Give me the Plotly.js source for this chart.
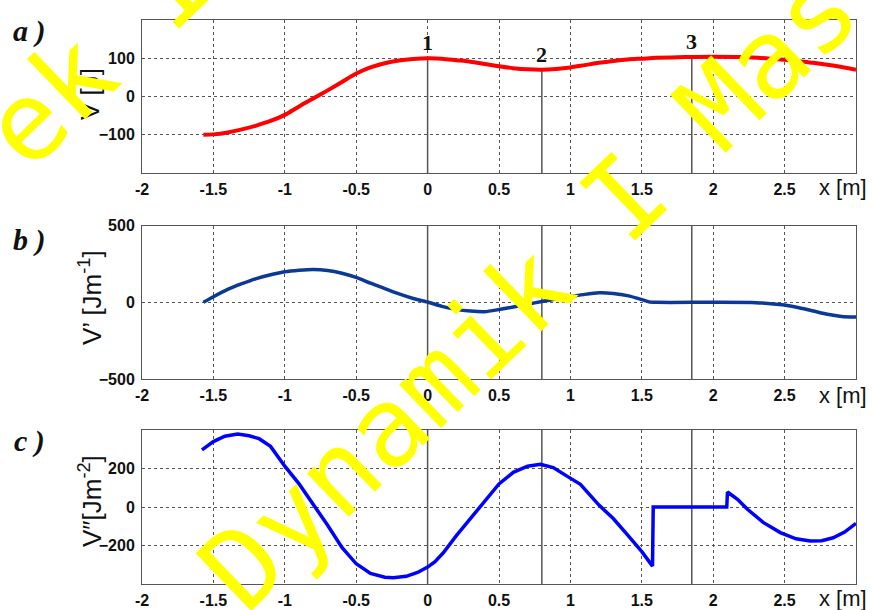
<!DOCTYPE html>
<html>
<head>
<meta charset="utf-8">
<script src="https://cdn.plot.ly/plotly-3.0.1.min.js"></script>
<style>html,body{margin:0;padding:0;background:#fff;}#chart{width:872px;height:610px;}</style>
</head>
<body>
<div id="chart"></div>
<script>
// ---- data ----
// panel a: potential energy V [J]
const xV = [-1.57,-1.5,-1.4,-1.3,-1.2,-1.1,-1.0,-0.9,-0.8,-0.7,-0.6,-0.5,-0.4,-0.3,-0.2,-0.1,0,0.1,0.2,0.3,0.4,0.5,0.6,0.7,0.8,0.9,1.0,1.1,1.2,1.3,1.4,1.5,1.6,1.8,2.0,2.2,2.4,2.5,2.6,2.7,2.8,2.9,3.0];
const V  = [-100,-99,-94,-86,-76,-64,-48,-26,-5,16,38,60,76,87,94,98,100,99,95,91,85,79,74,71,70,72,76,82,88,93,97,99,101,103,104,103,99,96,92,88,83,77,70];
// panel b: first derivative V' [J/m]
const xD1 = [-1.57,-1.5,-1.4,-1.3,-1.2,-1.1,-1.0,-0.9,-0.8,-0.7,-0.6,-0.5,-0.4,-0.3,-0.2,-0.1,0,0.1,0.2,0.3,0.4,0.5,0.6,0.7,0.8,0.9,1.0,1.1,1.2,1.3,1.4,1.5,1.55,1.6,2.0,2.3,2.5,2.6,2.7,2.8,2.9,3.0];
const D1  = [0,37,85,122,155,180,200,210,215,208,190,163,125,90,55,25,2,-26,-46,-57,-61,-47,-30,-12,5,22,37,52,62,58,44,18,3,0,0,-2,-18,-35,-56,-78,-92,-96];
// panel c: second derivative V'' [J/m^2]
const xD2 = [-1.58,-1.5,-1.42,-1.33,-1.25,-1.18,-1.1,-1.0,-0.9,-0.8,-0.7,-0.6,-0.5,-0.4,-0.3,-0.24,-0.15,-0.07,0,0.05,0.11,0.2,0.3,0.4,0.5,0.6,0.7,0.79,0.88,0.97,1.07,1.2,1.3,1.4,1.5,1.575,1.58,1.8,2.0,2.095,2.1,2.17,2.24,2.35,2.47,2.58,2.68,2.76,2.84,2.92,3.0];
const D2  = [297,340,368,379,370,355,315,212,120,15,-95,-210,-295,-345,-365,-368,-360,-340,-312,-285,-238,-150,-62,30,120,180,212,222,205,163,118,10,-60,-145,-232,-307,0,0,0,0,78,40,-12,-80,-133,-165,-177,-175,-160,-130,-85];
// equilibrium positions marked 1, 2, 3
const markerX = [0, 0.8, 1.85];
const markerV = [100, 70, 103];
const markerLabels = ['1','2','3'];
// axis ticks
const xTicks = [-2,-1.5,-1,-0.5,0,0.5,1,1.5,2,2.5];
const xTickText = ['-2','-1.5','-1','-0.5','0','0.5','1','1.5','2','2.5'];
const yTicksA = [-100,0,100];
const yTicksB = [-500,0,500];
const yTicksC = [-200,0,200];

// ---- layout helpers ----
const W = 872, H = 610, ML = 142, MR = 16, MT = 20, MB = 26;
const PW = W - ML - MR, PH = H - MT - MB;
const px = v => (v - ML) / PW;
const py = v => (H - MB - v) / PH;

const tickFont = {family: 'Liberation Sans, Arial, sans-serif', size: 16, color: '#111', weight: 'bold'};
function xax(anchor) {
  return {anchor: anchor, range: [-2, 3], tickvals: xTicks, ticktext: xTickText, showgrid: true,
    gridcolor: '#555', griddash: 'dot', gridwidth: 1, zeroline: false, showline: true, mirror: true,
    linecolor: '#555', linewidth: 1, ticks: '', tickfont: tickFont, ticklabelstandoff: 2};
}
function yax(anchor, dom, rng, tv) {
  return {anchor: anchor, domain: dom, range: rng, tickvals: tv, showgrid: true,
    gridcolor: '#555', griddash: 'dot', gridwidth: 1, zeroline: false, showline: true, mirror: true,
    linecolor: '#555', linewidth: 1, ticks: '', tickfont: tickFont, ticklabelstandoff: 3};
}

const traces = [];
// marker lines in panel a (from bottom up to the curve)
markerX.forEach((m, i) => {
  traces.push({x: [m, m], y: [-200, markerV[i]], xaxis: 'x', yaxis: 'y', mode: 'lines',
    line: {color: '#555', width: 1.5}, hoverinfo: 'skip'});
});
traces.push({x: xV, y: V, xaxis: 'x', yaxis: 'y', mode: 'lines', line: {color: '#ff0000', width: 4, shape: 'spline', smoothing: 0.8}});
traces.push({x: xD1, y: D1, xaxis: 'x2', yaxis: 'y2', mode: 'lines', line: {color: '#0a3a96', width: 3.5, shape: 'spline', smoothing: 0.6}});
traces.push({x: xD2, y: D2, xaxis: 'x3', yaxis: 'y3', mode: 'lines', line: {color: '#0000ff', width: 3.5}});

const shapes = [];
markerX.forEach(m => {
  ['2','3'].forEach(k => {
    shapes.push({type: 'line', xref: 'x' + k, yref: 'y' + k + ' domain', x0: m, x1: m, y0: 0, y1: 1,
      line: {color: '#555', width: 1.5}, layer: 'below'});
  });
});

const annotations = [];
function ann(o) { annotations.push(Object.assign({showarrow: false, xanchor: 'center', yanchor: 'middle'}, o)); }
// point labels
markerX.forEach((m, i) => {
  ann({x: m, y: markerV[i], xref: 'x', yref: 'y', text: markerLabels[i],
    yanchor: 'bottom', yshift: 1, font: {family: 'Liberation Serif, Times New Roman, serif', size: 22, color: '#111', weight: 'bold'}});
});
// panel letters
[['a )', 31], ['b )', 240], ['c )', 441]].forEach(([t, yy]) => {
  ann({x: px(29), y: py(yy), xref: 'paper', yref: 'paper', text: t,
    font: {family: 'Liberation Serif, Times New Roman, serif', size: 30, color: '#111', weight: 'bold', style: 'italic'}});
});
// y titles
[['V [J]', 94], ['V’ [Jm<sup>-1</sup>]', 298], ['V″[Jm<sup>-2</sup>]', 501]].forEach(([t, yy]) => {
  ann({x: px(90), y: py(yy), xref: 'paper', yref: 'paper', text: t, textangle: -90,
    font: {family: 'Liberation Sans, Arial, sans-serif', size: 26, color: '#111'}});
});
// x titles
[187, 395, 598].forEach(yy => {
  ann({x: px(843), y: py(yy), xref: 'paper', yref: 'paper', text: 'x [m]',
    font: {family: 'Liberation Sans, Arial, sans-serif', size: 22, color: '#111'}});
});
// watermark
ann({x: px(529), y: py(290), xref: 'paper', yref: 'paper', text: 'Dynamik I Mas', textangle: -44,
  font: {family: 'DejaVu Sans Mono, monospace', size: 110, color: '#ffff00'}});
ann({x: px(97), y: py(55), xref: 'paper', yref: 'paper', text: 'ek I', textangle: -44,
  font: {family: 'DejaVu Sans Mono, monospace', size: 110, color: '#ffff00'}});

const layout = {
  width: W, height: H, margin: {l: ML, r: MR, t: MT, b: MB, pad: 0},
  paper_bgcolor: '#fff', plot_bgcolor: '#fff', showlegend: false,
  xaxis: xax('y'), xaxis2: xax('y2'), xaxis3: xax('y3'),
  yaxis: yax('x', [0.7287, 1], [-200, 200], yTicksA),
  yaxis2: yax('x2', [0.3635, 0.6353], [-500, 500], yTicksB),
  yaxis3: yax('x3', [0, 0.273], [-400, 400], yTicksC),
  shapes: shapes, annotations: annotations
};
Plotly.newPlot('chart', traces, layout, {displayModeBar: false, staticPlot: true});
</script>
</body>
</html>
